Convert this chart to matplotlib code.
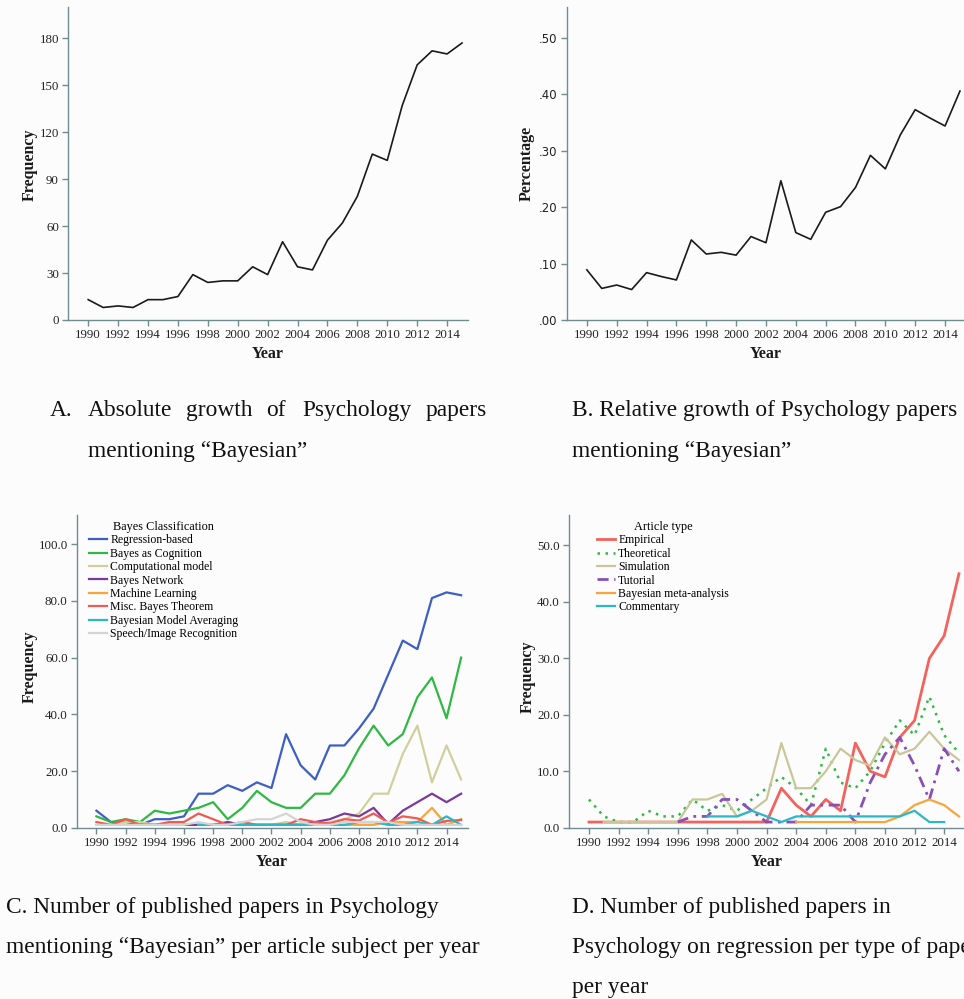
import numpy as np
import matplotlib
matplotlib.use('Agg')
import matplotlib.pyplot as plt

plt.rcParams['font.family'] = 'serif'
plt.rcParams['font.serif'] = ['Liberation Serif', 'DejaVu Serif']

W, H = 964, 999
nan = np.nan

years = list(range(1990, 2016))
tick_years = list(range(1990, 2015, 2))

# A. absolute number of papers
abs_freq = [13, 8, 9, 8, 13, 13, 15, 29, 24, 25, 25, 34, 29, 50, 34, 32,
            51, 62, 79, 106, 102, 137, 163, 172, 170, 177]

# B. relative share of papers
rel_pct = [.089, .056, .062, .054, .084, .077, .071, .142, .117, .120, .115, .148, .137,
           .247, .155, .143, .191, .201, .235, .292, .268, .328, .373, .358, .344, .406]

# C. papers per subject
c_labels = ['Regression-based', 'Bayes as Cognition', 'Computational model', 'Bayes Network',
            'Machine Learning', 'Misc. Bayes Theorem', 'Bayesian Model Averaging',
            'Speech/Image Recognition']
c_regression = [6, 2, 2, 1, 3, 3, 4, 12, 12, 15, 13, 16, 14, 33, 22, 17, 29, 29, 35, 42,
                54, 66, 63, 81, 83, 82]
c_cognition = [4, 2, 3, 2, 6, 5, 6, 7, 9, 3, 7, 13, 9, 7, 7, 12, 12, 18.5, 28, 36,
               29, 33, 46, 53, 38.6, 60]
c_computational = [1, 1, 2, 2, 1, 1, 1, 1, 1, 1, 1, 1, 1, 2, 1, 1, 2, 3, 5, 12,
                   12, 26, 36, 16, 29, 17]
c_network = [nan, nan, nan, 1, 1, 1, 1, 1, 1, 2, 1, 1, 1, 1, 1, 2, 3, 5, 4, 7,
             1.3, 6, 9, 12, 9, 12]
c_machine = [nan, nan, nan, nan, nan, nan, nan, 1, 1, 1, 1, 1, 1, 1, 1, 1, 1, 1, 1, 1,
             2, 2, 2, 7, 1, 3]
c_misc = [2, 1, 3, 1, 1, 2, 2, 5, 3, 1, 2, 1, 1, 1, 3, 2, 1.5, 3, 2.5, 5,
          1.8, 4, 3.3, 1, 2.4, 2.7]
c_averaging = [nan, nan, nan, nan, nan, nan, nan, 1, 1, 1, 1, 1, 1, 1, 1, 1, 1, 1, 2, 2,
               1, 1, 2, 1, 4, 1]
c_speech = [1, 1, 1, 1, 1, 1, 1, 2, 1, 1, 2, 3, 3, 5, 2, 1, 1, 2, 2, 2,
            2, 1, 1, 1, 1, 1]
c_series = [c_regression, c_cognition, c_computational, c_network, c_machine,
            c_misc, c_averaging, c_speech]
c_colors = ['#3d5fc4', '#2fb842', '#d2cf9e', '#7b3a9a', '#f9a53a', '#ef5a52',
            '#2ab7c6', '#d4d4d4']

# D. regression papers per article type
d_labels = ['Empirical', 'Theoretical', 'Simulation', 'Tutorial',
            'Bayesian meta-analysis', 'Commentary']
d_empirical = [1, 1, 1, 1, 1, 1, 1, 1, 1, 1, 1, 1, 1, 7, 4, 2, 5, 3, 15, 10,
               9, 16, 19, 30, 34, 45]
d_theoretical = [5, 2, 1, 1, 3, 2, 2, 5, 3, 4, 3, 5, 7, 9, 7, 4, 14, 8, 7, 10,
                 15, 19, 16.4, 23.2, 16.4, 13.2]
d_simulation = [nan, 1, 1, 1, 1, 1, 1, 5, 5, 6, 2, 3, 5, 15, 7, 7, 10, 14, 12, 11,
                16, 13, 14, 17, 14, 12]
d_tutorial = [nan, nan, nan, nan, nan, nan, 1, 2, 2, 5, 5, 3, 1, 1, 1, 4, 4, 4, 1, 8,
              13, 16, 11, 5, 14, 10]
d_meta = [nan] * 14 + [1, 1, 1, 1, 1, 1, 1, 2, 4, 5, 4, 2]
d_commentary = [nan] * 8 + [2, 2, 2, 3, 2, 1, 2, 2, 2, 2, 2, 2, 2, 2, 3, 1, 1, nan]
d_series = [d_empirical, d_theoretical, d_simulation, d_tutorial, d_meta, d_commentary]
d_colors = ['#f4625c', '#2fb842', '#c9c79a', '#8a4fb5', '#f9a53a', '#2ab7c6']
d_styles = ['-', (0, (1, 2.2)), '-', (0, (4, 2, 1, 2)), '-', '-']
d_widths = [2.0, 1.8, 1.6, 2.0, 1.6, 1.6]

spine_col = '#6f8c92'
fig = plt.figure(figsize=(W / 100, H / 100), dpi=100, facecolor='#fcfcfd')


def box(l, t, r, b):
    return [l / W, 1 - b / H, (r - l) / W, (b - t) / H]


def ftext(x, y, s, **kw):
    fig.text(x / W, 1 - y / H, s, **kw)


def setup(ax, xmax, ymax, yticks, ylabels, sans=False):
    ax.set_facecolor('none')
    for side in ['top', 'right']:
        ax.spines[side].set_visible(False)
    for side in ['left', 'bottom']:
        ax.spines[side].set_color(spine_col)
        ax.spines[side].set_linewidth(1.0)
    ax.set_xlim(1988.65, xmax)
    ax.set_ylim(0, ymax)
    ax.set_xticks(tick_years)
    ax.set_xticklabels([str(y) for y in tick_years])
    ax.set_yticks(yticks)
    ax.set_yticklabels(ylabels)
    ax.tick_params(direction='out', length=4.5, width=1.0, color=spine_col,
                   labelsize=9.3, labelcolor='#222222', pad=2)
    if sans:
        for lab in ax.get_yticklabels():
            lab.set_family('DejaVu Sans')
            lab.set_fontsize(8.5)


lab_kw = dict(fontsize=11.5, fontweight='bold', ha='center', va='center', color='#1a1a1a')
leg_kw = dict(loc='upper left', frameon=False, fontsize=8.5, title_fontsize=8.8,
              handlelength=1.5, handletextpad=0.3, labelspacing=0.12,
              borderaxespad=0, borderpad=0.5)

# A
axA = fig.add_axes(box(68, 7, 468, 320))
axA.plot(years, abs_freq, color='#1a1a1a', lw=1.2)
setup(axA, 2015.4, 200, [0, 30, 60, 90, 120, 150, 180],
      ['0', '30', '60', '90', '120', '150', '180'])
ftext(30, 165, 'Frequency', rotation=90, **lab_kw)
ftext(268, 354, 'Year', **lab_kw)

# B
axB = fig.add_axes(box(566.7, 7, 964, 320))
axB.plot(years, rel_pct, color='#1a1a1a', lw=1.2)
setup(axB, 2015.27, 0.555, [0, .1, .2, .3, .4, .5],
      ['.00', '.10', '.20', '.30', '.40', '.50'], sans=True)
ftext(527, 163, 'Percentage', rotation=90, **lab_kw)
ftext(766, 354, 'Year', **lab_kw)

# C
axC = fig.add_axes(box(76.7, 515, 468, 827.7))
for vals, lab, col in zip(c_series, c_labels, c_colors):
    axC.plot(years, vals, color=col, lw=1.6, label=lab)
setup(axC, 2015.47, 110.3, [0, 20, 40, 60, 80, 100],
      ['0.0', '20.0', '40.0', '60.0', '80.0', '100.0'])
axC.legend(title='Bayes Classification',
           bbox_to_anchor=((83 - 76.7) / (468 - 76.7), 1.0), **leg_kw)
ftext(30, 667, 'Frequency', rotation=90, **lab_kw)
ftext(272, 862, 'Year', **lab_kw)

# D
axD = fig.add_axes(box(569, 515, 964, 827.7))
for vals, lab, col, ls, lw in zip(d_series, d_labels, d_colors, d_styles, d_widths):
    axD.plot(years, vals, color=col, ls=ls, lw=lw, label=lab)
setup(axD, 2015.34, 55.4, [0, 10, 20, 30, 40, 50],
      ['0.0', '10.0', '20.0', '30.0', '40.0', '50.0'])
axD.legend(title='Article type',
           bbox_to_anchor=((591 - 569) / (964 - 569), 1.0), **leg_kw)
ftext(528, 677, 'Frequency', rotation=90, **lab_kw)
ftext(767, 862, 'Year', **lab_kw)

# captions
cap = dict(fontsize=16.8, ha='left', va='center', color='#111111')
for x, w in zip([50, 88, 186, 266, 302, 426],
                ['A.', 'Absolute', 'growth', 'of', 'Psychology', 'papers']):
    ftext(x, 410, w, **cap)
ftext(88, 452, 'mentioning \u201cBayesian\u201d', **cap)
ftext(572, 410, 'B. Relative growth of Psychology papers', **cap)
ftext(572, 452, 'mentioning \u201cBayesian\u201d', **cap)
ftext(6, 907, 'C. Number of published papers in Psychology', **cap)
ftext(6, 948, 'mentioning \u201cBayesian\u201d per article subject per year', **cap)
ftext(572, 907, 'D. Number of published papers in', **cap)
ftext(572, 948, 'Psychology on regression per type of paper', **cap)
ftext(572, 988, 'per year', **cap)

fig.savefig('out.png', dpi=100, facecolor=fig.get_facecolor())
